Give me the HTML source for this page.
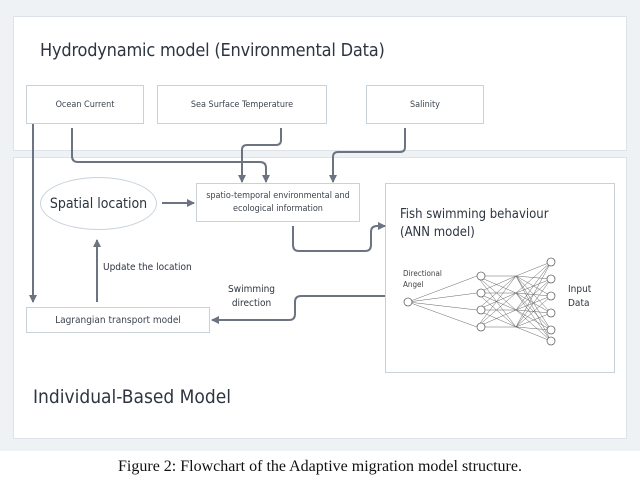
<!DOCTYPE html>
<html><head><style>
body{margin:0;width:640px;height:479px;background:#fff;position:relative;font-family:"DejaVu Sans Condensed","DejaVu Sans","Liberation Sans",sans-serif;overflow:hidden}
.bg{position:absolute;left:0;top:0;width:640px;height:451px;background:#eef2f5}
.p{position:absolute;background:#fff;border:1px solid #dde3e8}
.b{position:absolute;background:#fff;border:1px solid #c9d1d9;display:flex;align-items:center;justify-content:center;text-align:center;color:#3d4550;font-size:10px;box-sizing:border-box}
.t{position:absolute;color:#2e3540}
</style></head><body>
<div class="bg"></div>
<div class="p" style="left:13px;top:16px;width:612px;height:133px"></div>
<div class="p" style="left:13px;top:157px;width:612px;height:280px"></div>
<div class="t" style="left:40px;top:40px;font-size:18px;letter-spacing:-0.2px">Hydrodynamic model (Environmental Data)</div>
<div class="t" style="left:33px;top:386px;font-size:19px">Individual-Based Model</div>
<div class="b" style="left:26px;top:85px;width:118px;height:39px;font-size:9px">Ocean Current</div>
<div class="b" style="left:157px;top:85px;width:170px;height:39px;font-size:9px">Sea Surface Temperature</div>
<div class="b" style="left:366px;top:85px;width:118px;height:39px;font-size:9px">Salinity</div>
<div class="b" style="left:196px;top:183px;width:164px;height:39px;font-size:9px;line-height:13px">spatio-temporal environmental and<br>ecological information</div>
<div class="b" style="left:26px;top:307px;width:184px;height:26px;font-size:10px">Lagrangian transport model</div>
<div class="b" style="left:385px;top:183px;width:230px;height:190px;align-items:flex-start;justify-content:flex-start;text-align:left;padding:22px 0 0 14px;font-size:13px;line-height:18px;color:#2e3540">Fish swimming behaviour<br>(ANN model)</div>
<div class="b" style="left:40px;top:177px;width:117px;height:53px;border-radius:50%;font-size:14px;color:#2e3540;border-color:#c9d3dc">Spatial location</div>
<div class="t" style="left:103px;top:262px;font-size:10px">Update the location</div>
<div class="t" style="left:228px;top:283px;font-size:10px;text-align:center;line-height:14px">Swimming<br>direction</div>
<div class="t" style="left:403px;top:268px;font-size:8px;line-height:11px;color:#444">Directional<br>Angel</div>
<div class="t" style="left:568px;top:283px;font-size:10px;line-height:14px">Input<br>Data</div>
<svg width="640" height="479" style="position:absolute;left:0;top:0">
<defs><marker id="a" markerUnits="userSpaceOnUse" markerWidth="8" markerHeight="8" refX="7" refY="4" orient="auto"><path d="M0,0L8,4L0,8z" fill="#6b7480"/></marker></defs>
<g stroke="#6b7480" stroke-width="2" fill="none" marker-end="url(#a)">
<path d="M33,124V302"/>
<path d="M72,128V156Q72,162 78,162H260Q266,162 266,168V182"/>
<path d="M281,128V140Q281,145 276,145H247Q242,145 242,150V182"/>
<path d="M405,128V147Q405,152 400,152H338Q333,152 333,157V182"/>
<path d="M162,203H194"/>
<path d="M293,226V245Q293,251 299,251H365Q371,251 371,245V232Q371,226 377,226H385"/>
<path d="M97,302V240"/>
<path d="M385,296H301Q295,296 295,302V314Q295,320 289,320H212"/>
</g>
<g stroke="#666" stroke-width="0.5" fill="none">
<path d="M408,302L477,276M408,302L477,293M408,302L477,310M408,302L477,327"/>
<path d="M477,276L516,276M477,276L516,293M477,276L516,310M477,276L516,327M477,293L516,276M477,293L516,293M477,293L516,310M477,293L516,327M477,310L516,276M477,310L516,293M477,310L516,310M477,310L516,327M477,327L516,276M477,327L516,293M477,327L516,310M477,327L516,327"/>
<path d="M516,276L551,262M516,276L551,279M516,276L551,296M516,276L551,313M516,276L551,330M516,276L551,341M516,293L551,262M516,293L551,279M516,293L551,296M516,293L551,313M516,293L551,330M516,293L551,341M516,310L551,262M516,310L551,279M516,310L551,296M516,310L551,313M516,310L551,330M516,310L551,341M516,327L551,262M516,327L551,279M516,327L551,296M516,327L551,313M516,327L551,330M516,327L551,341"/>
</g>
<g fill="#fff" stroke="#666" stroke-width="0.8">
<circle cx="408" cy="302" r="4"/>
<circle cx="481" cy="276" r="4"/><circle cx="481" cy="293" r="4"/><circle cx="481" cy="310" r="4"/><circle cx="481" cy="327" r="4"/>
<circle cx="551" cy="262" r="4"/><circle cx="551" cy="279" r="4"/><circle cx="551" cy="296" r="4"/><circle cx="551" cy="313" r="4"/><circle cx="551" cy="330" r="4"/><circle cx="551" cy="341" r="4"/>
</g>
</svg>
<div class="t" style="left:0;width:640px;top:458px;text-align:center;font-family:'Liberation Serif',serif;font-size:16px;color:#111">Figure 2: Flowchart of the Adaptive migration model structure.</div>
</body></html>
